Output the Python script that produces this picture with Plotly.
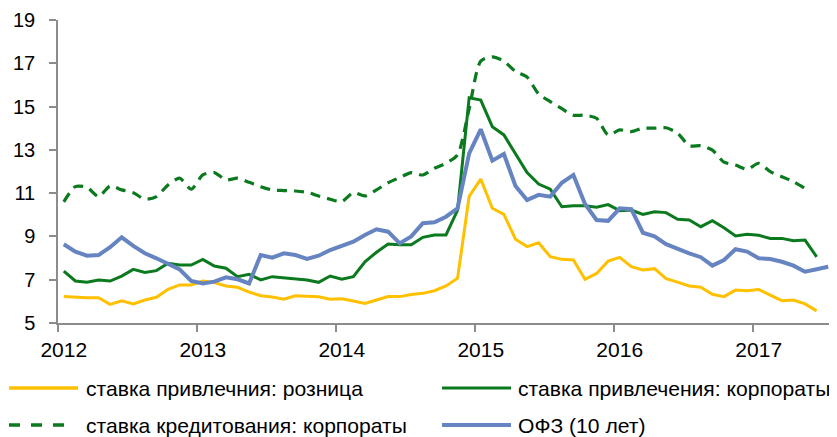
import plotly.graph_objects as go

# ---- data (monthly, Jan 2012 .. Jul 2017) ----
months = [f"{y}-{m:02d}" for y in range(2012, 2018) for m in range(1, 13)][:67]
year_labels = ["2012", "2013", "2014", "2015", "2016", "2017"]

retail = [6.22, 6.19, 6.17, 6.17, 5.86, 6.02, 5.88, 6.06, 6.19, 6.56, 6.76, 6.76,
          6.94, 6.87, 6.71, 6.65, 6.43, 6.26, 6.20, 6.10, 6.26, 6.24, 6.21, 6.10,
          6.12, 6.02, 5.90, 6.06, 6.22, 6.22, 6.32, 6.37, 6.49, 6.71, 7.07, 10.85,
          11.65, 10.30, 10.02, 8.87, 8.53, 8.71, 8.06, 7.94, 7.91, 7.02, 7.29, 7.86,
          8.03, 7.60, 7.45, 7.51, 7.05, 6.89, 6.71, 6.65, 6.33, 6.22, 6.52, 6.49,
          6.55, 6.29, 6.03, 6.06, 5.88, 5.56]

corp_deposit = [7.40, 6.94, 6.88, 6.99, 6.94, 7.17, 7.48, 7.34, 7.42, 7.76, 7.68, 7.68,
                7.94, 7.63, 7.53, 7.14, 7.25, 6.99, 7.14, 7.09, 7.06, 6.99, 6.88, 7.17,
                7.02, 7.14, 7.83, 8.27, 8.65, 8.61, 8.61, 8.96, 9.07, 9.07, 10.22, 15.41,
                15.30, 14.07, 13.69, 12.84, 11.95, 11.42, 11.18, 10.37, 10.42, 10.42, 10.35, 10.47,
                10.19, 10.22, 10.02, 10.14, 10.10, 9.79, 9.76, 9.45, 9.73, 9.40, 9.02, 9.10,
                9.05, 8.91, 8.91, 8.80, 8.83, 8.06]

corp_lending = [10.60, 11.30, 11.27, 10.84, 11.33, 11.15, 11.02, 10.72, 10.84, 11.38, 11.69, 11.18,
                11.84, 11.95, 11.61, 11.69, 11.50, 11.30, 11.15, 11.12, 11.10, 11.04, 10.87, 10.72,
                10.61, 11.02, 10.87, 11.15, 11.48, 11.72, 11.95, 11.84, 12.15, 12.38, 12.78, 14.90,
                17.10, 17.30, 17.10, 16.62, 16.36, 15.58, 15.23, 14.90, 14.60, 14.60, 14.46, 13.69,
                13.92, 13.84, 14.00, 14.00, 14.02, 13.77, 13.19, 13.19, 12.99, 12.43, 12.30, 12.10,
                12.38, 11.99, 11.76, 11.53, 11.22]

ofz = [8.64, 8.30, 8.11, 8.14, 8.50, 8.96, 8.56, 8.22, 7.99, 7.76, 7.48, 6.94,
       6.83, 6.91, 7.11, 7.02, 6.83, 8.14, 8.02, 8.22, 8.14, 7.96, 8.11, 8.37,
       8.56, 8.76, 9.07, 9.33, 9.22, 8.68, 9.00, 9.61, 9.65, 9.91, 10.30, 12.84,
       13.95, 12.50, 12.81, 11.33, 10.68, 10.92, 10.84, 11.48, 11.84, 10.50, 9.76, 9.72,
       10.30, 10.26, 9.17, 9.00, 8.64, 8.41, 8.22, 8.04, 7.65, 7.91, 8.41, 8.30,
       7.99, 7.96, 7.83, 7.65, 7.37, 7.48, 7.60]

names = ["ставка привлечния: розница", "ставка привлечения: корпораты",
         "ставка кредитования: корпораты", "ОФЗ (10 лет)"]

YELLOW = "#FFC000"
GREEN = "#0B7A1E"
BLUE = "#6584C1"
AXIS = "#8C8C8C"
FONT = "Liberation Sans, Arial, sans-serif"

idx = list(range(len(months)))

fig = go.Figure()
fig.add_trace(go.Scatter(x=idx[:len(corp_lending)], y=corp_lending, mode="lines", name=names[2],
                         line=dict(color=GREEN, width=3.2, dash="10px,7px", shape="spline", smoothing=0.7),
                         showlegend=False))
fig.add_trace(go.Scatter(x=idx[:len(retail)], y=retail, mode="lines", name=names[0],
                         line=dict(color=YELLOW, width=3), showlegend=False))
fig.add_trace(go.Scatter(x=idx[:len(corp_deposit)], y=corp_deposit, mode="lines", name=names[1],
                         line=dict(color=GREEN, width=3), showlegend=False))
fig.add_trace(go.Scatter(x=idx[:len(ofz)], y=ofz, mode="lines", name=names[3],
                         line=dict(color=BLUE, width=4), showlegend=False))

# page has an 8px body margin: size the figure so it fills the 837x437 window exactly
OFF = 8
W, H = 837 - OFF, 437 - OFF
PL, PR, PT, PB = 58, 834, 20, 323          # plot area in page pixels
L, R, T, B = PL - OFF, W - (PR - OFF), PT - OFF, H - (PB - OFF)
pw, ph = W - L - R, H - T - B


def px_x(x):
    return (x - OFF - L) / pw


def px_y(y):
    return (H - B - (y - OFF)) / ph


# manual legend (two columns, two rows), positions in page pixels
legend_items = [
    (names[0], YELLOW, "solid", 3.5, 9, 78, 84, 388),
    (names[1], GREEN, "solid", 3.2, 442, 511, 516, 388),
    (names[2], GREEN, "11px,11px", 3.5, 9, 68, 84, 425),
    (names[3], BLUE, "solid", 4, 442, 511, 516, 425),
]
shapes, annotations = [], []
for text, col, dash, w, x0, x1, tx, ty in legend_items:
    shapes.append(dict(type="line", xref="paper", yref="paper",
                       x0=px_x(x0), x1=px_x(x1), y0=px_y(ty), y1=px_y(ty),
                       line=dict(color=col, width=w, dash=dash)))
    annotations.append(dict(xref="paper", yref="paper", x=px_x(tx), y=px_y(ty),
                            text=text, showarrow=False, xanchor="left", yanchor="middle",
                            font=dict(size=21.1, color="#000000", family=FONT)))

n = len(months)
fig.update_layout(
    width=W, height=H,
    margin=dict(l=L, r=R, t=T, b=B, autoexpand=False),
    paper_bgcolor="white", plot_bgcolor="white",
    font=dict(family=FONT, color="#000000", size=21),
    shapes=shapes, annotations=annotations,
    showlegend=False,
    xaxis=dict(range=[-0.5, n - 0.5], showgrid=False, zeroline=False,
               showline=True, linecolor=AXIS, linewidth=1.5,
               tickmode="array", tickvals=[12 * k for k in range(len(year_labels))],
               ticktext=year_labels, ticks="outside", ticklen=7, tickcolor="rgba(0,0,0,0)",
               tickfont=dict(size=21, family=FONT, color="#000000"),
               minor=dict(tickmode="array", tickvals=[12 * k - 0.5 for k in range(len(year_labels))],
                          ticks="outside", ticklen=7, tickcolor=AXIS, tickwidth=1.5)),
    yaxis=dict(range=[5, 19], showgrid=False, zeroline=False,
               showline=True, linecolor=AXIS, linewidth=1.5,
               tickmode="array", tickvals=list(range(5, 20, 2)),
               ticks="outside", ticklen=7, tickcolor=AXIS, tickwidth=1.5,
               ticklabelstandoff=10,
               tickfont=dict(size=20, family=FONT, color="#000000")),
)

fig.write_html("out.html")
